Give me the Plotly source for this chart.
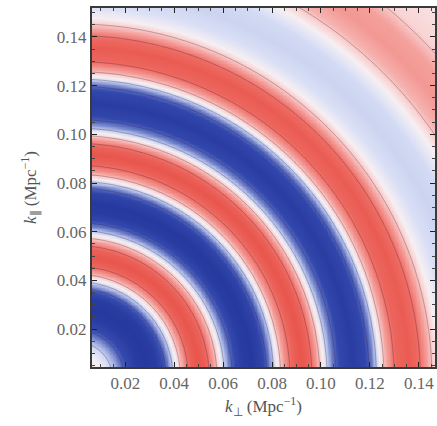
import numpy as np
import plotly.graph_objects as go

# Radial profile: k = sqrt(k_perp^2 + k_par^2) (Mpc^-1) and signal amplitude
k_profile = [0.000, 0.010, 0.014, 0.018, 0.021, 0.025, 0.029, 0.033, 0.036, 0.038,
             0.041, 0.044, 0.047, 0.050, 0.053, 0.056, 0.059, 0.062, 0.065, 0.068,
             0.072, 0.076, 0.079, 0.082, 0.085, 0.089, 0.092, 0.095, 0.098, 0.101,
             0.104, 0.108, 0.113, 0.118, 0.121, 0.124, 0.127, 0.131, 0.136, 0.140,
             0.144, 0.148, 0.153, 0.160, 0.167, 0.173, 0.179, 0.186, 0.193, 0.200,
             0.215]
amp_profile = [0.06, 0.00, -0.15, -0.45, -0.75, -0.95, -1.00, -0.95, -0.70, -0.40,
               0.00, 0.40, 0.75, 0.85, 0.75, 0.40, 0.00, -0.40, -0.75, -0.95,
               -1.00, -0.85, -0.45, 0.00, 0.40, 0.75, 0.85, 0.75, 0.40, 0.00,
               -0.40, -0.80, -0.95, -0.80, -0.45, 0.00, 0.35, 0.70, 0.80, 0.65,
               0.30, 0.00, -0.12, -0.17, -0.14, 0.00, 0.28, 0.40, 0.36, 0.14,
               0.04]

k_perp = np.linspace(0.005, 0.15, 260)
k_par = np.linspace(0.004, 0.153, 260)
KX, KY = np.meshgrid(k_perp, k_par)
Z = np.interp(np.sqrt(KX**2 + KY**2), k_profile, amp_profile)

tick_vals = [0.02, 0.04, 0.06, 0.08, 0.10, 0.12, 0.14]
tick_text = ["0.02", "0.04", "0.06", "0.08", "0.10", "0.12", "0.14"]

colorscale = [
    [0.000, "#26399f"],
    [0.125, "#3449ae"],
    [0.250, "#6274c4"],
    [0.350, "#a9b5e3"],
    [0.440, "#d9dff5"],
    [0.500, "#f6eff3"],
    [0.575, "#f9d3d2"],
    [0.675, "#f4a29e"],
    [0.800, "#ef7068"],
    [0.925, "#e8564d"],
    [1.000, "#e04a42"],
]

fig = go.Figure(go.Contour(
    x=k_perp, y=k_par, z=Z,
    zmin=-1, zmax=1,
    colorscale=colorscale,
    showscale=False,
    contours=dict(coloring="heatmap", start=-0.6, end=0.6, size=0.4),
    line=dict(width=0.7, color="rgba(60,30,50,0.45)"),
    hoverinfo="skip",
))

font_serif = "Liberation Serif, Times New Roman, serif"
axis_common = dict(
    showline=True, linecolor="#3a3a3a", linewidth=2, mirror="ticks",
    ticks="inside", ticklen=5, tickcolor="#222", tickwidth=1.2,
    minor=dict(ticks="inside", ticklen=3, tickcolor="#444", dtick=0.005),
    showgrid=False, zeroline=False,
    tickfont=dict(family=font_serif, size=17, color="#666"),
    tickvals=tick_vals, ticktext=tick_text,
)

fig.update_layout(
    width=437, height=426,
    margin=dict(l=92, r=0, t=8, b=59),
    paper_bgcolor="white", plot_bgcolor="white",
    xaxis=dict(range=[0.0064, 0.1466],
               title=dict(text="<i>k</i><sub>⊥</sub> (Mpc<sup>−1</sup>)",
                          font=dict(family=font_serif, size=17, color="#555"), standoff=8),
               **axis_common),
    yaxis=dict(range=[0.0044, 0.1519],
               title=dict(text="<i>k</i><sub>∥</sub> (Mpc<sup>−1</sup>)",
                          font=dict(family=font_serif, size=17, color="#555"), standoff=16),
               **axis_common),
)

fig.write_html("out.html")
